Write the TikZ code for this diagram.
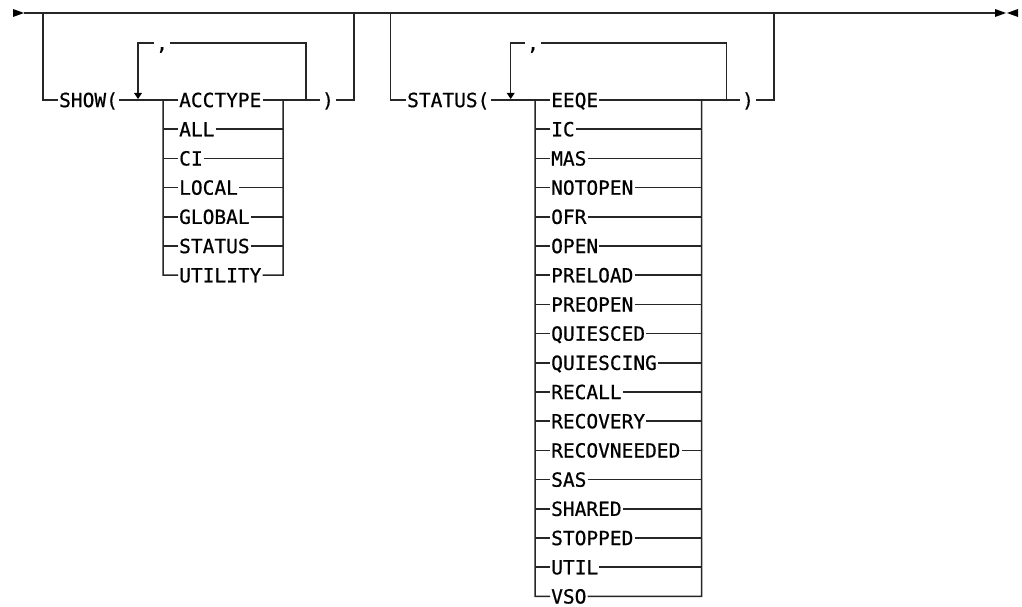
\documentclass[tikz,border=0pt]{standalone}
\usepackage{fontspec}
\newfontfamily\dmono[FakeBold=0.6]{DejaVu Sans Mono}
\begin{document}
\begin{tikzpicture}[x=1pt,y=-1pt,
  rail/.style={line width=1.5pt, draw=black!85, line join=miter},
  kw/.style={font=\dmono\fontsize{19.5}{20}\selectfont, inner sep=1pt, text height=14.2pt, text depth=0pt, anchor=west},
  sepch/.style={kw, anchor=center, inner sep=2pt},
  tip/.style={fill=black, draw=none}]
\useasboundingbox (0,0) rectangle (1022,607);
% main line
\coordinate (start) at (24,13);
\coordinate (end) at (995,13);
\fill[tip] (13,9) -- (13,17) -- (start) -- cycle;
\draw[rail] (start) -- (end);
\fill[tip] (end) ++(0,-4) -- ++(0,8) -- (1006,13) -- cycle;
\fill[tip] (1018,9) -- (1018,17) -- (1007,13) -- cycle;

% ---------- SHOW branch ----------
\coordinate (showtop) at (43,13);
\coordinate (showrtop) at (354,13);
\node[kw] (show) at (58,100) {SHOW(};
\node[sepch] (showclose) at (328,100) {)};
\draw[rail] (showtop) -- (43,100) -- (show.west);
\draw[rail] (showclose.east) -- (354,100) -- (showrtop);
% loop
\node[sepch] (showcomma) at (162,43) {,};
\coordinate (showarr) at (138,93);
\draw[rail] (306,100) -- (306,43) -- (showcomma.east);
\draw[rail] (showcomma.west) -- (138,43) -- (showarr);
\fill[tip] (134,93) -- (142,93) -- (138,99) -- cycle;
% items
\foreach \t [count=\i from 0] in {ACCTYPE,ALL,CI,LOCAL,GLOBAL,STATUS,UTILITY}{
  \node[kw] (sh\i) at (178,{100+\i*29.2}) {\t};
}
\draw[rail] (show.east) -- (sh0.west);
\draw[rail] (sh0.east) -- (showclose.west);
\foreach \i in {1,...,5}{
  \draw[rail] (163,{100+\i*29.2}) -- (sh\i.west);
  \draw[rail] (sh\i.east) -- (283,{100+\i*29.2});
}
\draw[rail] (163,100) -- (163,275.2) -- (sh6.west);
\draw[rail] (sh6.east) -- (283,275.2) -- (283,100);

% ---------- STATUS branch ----------
\coordinate (sttop) at (390.7,13);
\coordinate (strtop) at (774,13);
\node[kw] (st) at (406,100) {STATUS(};
\node[sepch] (stclose) at (748,100) {)};
\draw[rail] (sttop) -- (390.7,100) -- (st.west);
\draw[rail] (stclose.east) -- (774,100) -- (strtop);
% loop
\node[sepch] (stcomma) at (533,43) {,};
\coordinate (starr) at (510.7,93);
\draw[rail] (726.7,100) -- (726.7,43) -- (stcomma.east);
\draw[rail] (stcomma.west) -- (510.7,43) -- (starr);
\fill[tip] (506.7,93) -- (514.7,93) -- (510.7,99) -- cycle;
% items
\foreach \t [count=\i from 0] in {EEQE,IC,MAS,NOTOPEN,OFR,OPEN,PRELOAD,PREOPEN,QUIESCED,QUIESCING,RECALL,RECOVERY,RECOVNEEDED,SAS,SHARED,STOPPED,UTIL,VSO}{
  \node[kw] (it\i) at (550,{100+\i*29.2}) {\t};
}
\draw[rail] (st.east) -- (it0.west);
\draw[rail] (it0.east) -- (stclose.west);
\foreach \i in {1,...,16}{
  \draw[rail] (535,{100+\i*29.2}) -- (it\i.west);
  \draw[rail] (it\i.east) -- (701.7,{100+\i*29.2});
}
\draw[rail] (535,100) -- (535,596.4) -- (it17.west);
\draw[rail] (it17.east) -- (701.7,596.4) -- (701.7,100);
\end{tikzpicture}
\end{document}
